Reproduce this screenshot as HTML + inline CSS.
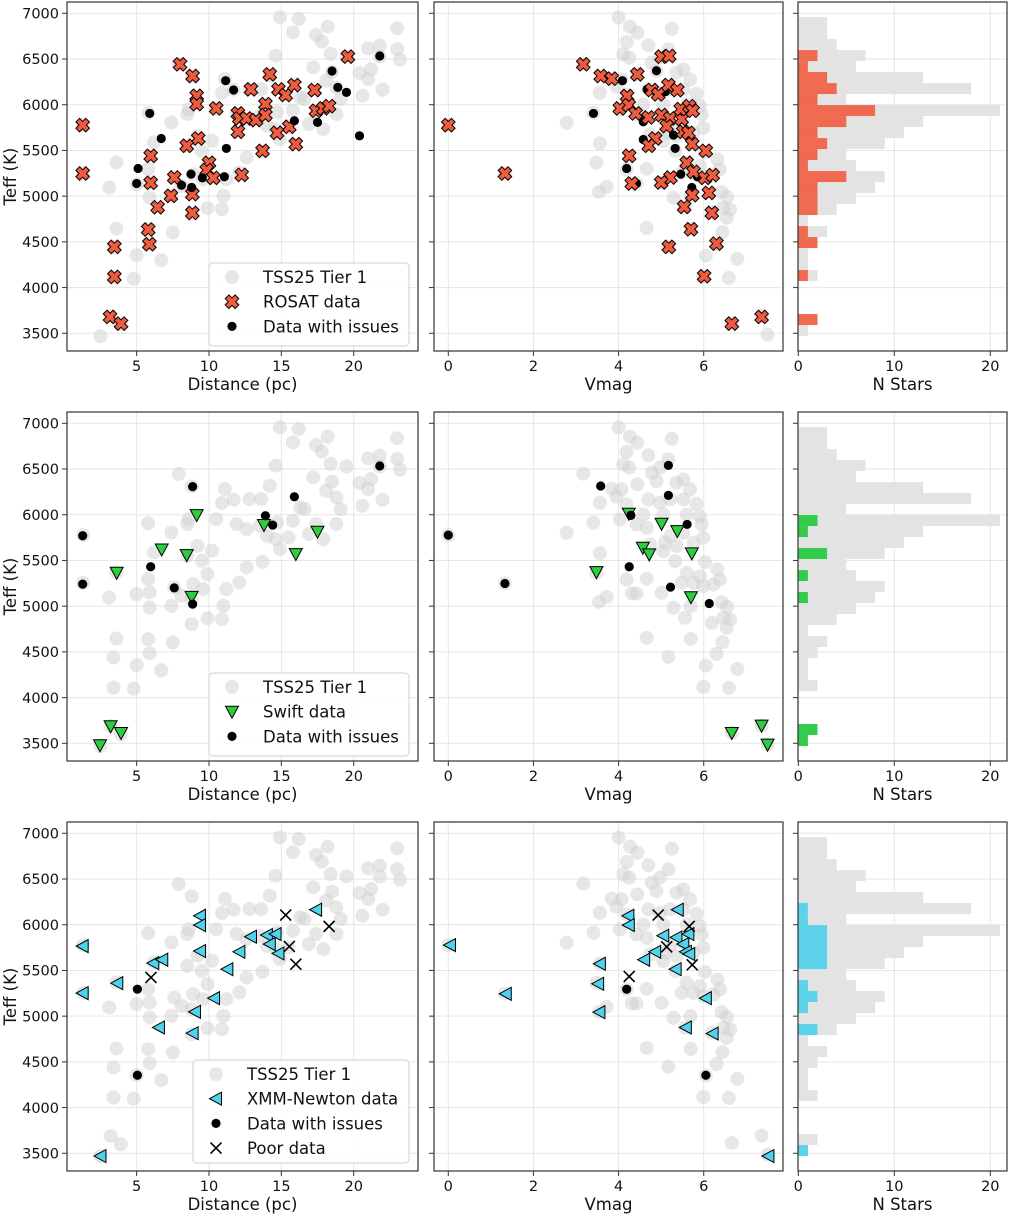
<!DOCTYPE html>
<html><head><meta charset="utf-8"><title>Teff vs Distance / Vmag</title>
<style>
html,body{margin:0;padding:0;background:#fff;}
svg{display:block;font-family:"DejaVu Sans","Liberation Sans",sans-serif;}
</style></head>
<body>
<svg id="fig" width="1010" height="1217" viewBox="0 0 1010 1217" xmlns="http://www.w3.org/2000/svg"></svg>
<script>
// ---------- DATA ----------
const tierDist = [14.9,16.2,15.8,17.4,18.2,17.8,23.0,21.8,21.0,23.0,23.2,21.8,19.5,14.6,18.4,21.2,20.4,21.0,20.6,22.0,17.2,18.5,18.1,18.8,19.1,18.8,17.9,16.9,17.4,16.6,15.8,14.7,14.9,14.0,13.6,14.2,12.8,11.7,11.1,10.9,10.5,11.9,12.6,13.7,12.6,12.1,11.2,11.0,10.9,9.9,9.9,9.6,9.5,10.2,9.2,8.5,8.5,8.6,7.4,7.9,8.8,5.8,6.2,5.8,5.0,5.9,5.9,7.4,7.6,8.1,8.8,8.9,8.8,7.5,5.8,5.9,6.7,5.0,4.8,3.4,3.4,3.6,3.6,3.1,1.3,1.3,3.2,3.9,2.5,14.6,15.5,16.3,13.5];
const tierTeffD = [6956,6938,6792,6763,6854,6690,6836,6646,6617,6609,6493,6529,6529,6536,6555,6390,6347,6281,6098,6164,6409,6361,6263,6190,6062,5898,5733,5788,5898,6062,5934,5916,5624,5770,6171,6317,6171,6164,6281,6128,5952,5898,5843,5485,5423,5259,5186,5003,4857,4868,5350,5186,5496,5606,5660,5551,5898,5952,5806,6445,6310,5908,5588,5296,5131,5150,4985,5003,5204,5113,5076,5241,4803,4602,4639,4485,4299,4354,4098,4109,4438,4646,5369,5095,5777,5252,3689,3598,3470,5733,5752,6080,5880];
const tierVmag = [4.0,4.27,4.44,5.25,4.19,4.70,5.17,4.11,4.25,3.17,4.78,4.97,4.89,5.36,5.52,5.68,3.84,4.07,3.95,4.19,4.44,4.70,4.97,5.21,5.52,5.83,5.60,5.91,5.95,5.99,5.76,5.52,5.21,5.36,5.05,5.33,4.66,4.42,4.03,3.41,2.78,3.56,3.56,3.48,4.19,4.31,4.42,4.66,5.01,5.48,5.60,5.91,6.03,6.32,6.38,6.23,5.99,5.76,5.29,5.56,5.69,6.42,6.55,6.46,6.62,6.54,6.19,4.66,5.70,6.44,5.17,6.30,6.05,6.79,5.99,6.59,3.72,3.54,7.50,7.36,6.66,4.74,5.09,5.05,4.58,0.0,1.33];
const tierTeffV = [6953,6854,6788,6832,6686,6650,6606,6551,6515,6449,6460,6515,6369,6350,6387,6277,6285,6277,6197,6113,6332,6168,6131,6168,6168,6120,6003,5985,5894,5748,5693,5803,5766,5657,5602,5493,5857,5894,5949,5912,5803,6131,5577,5365,5292,5139,5139,5299,5146,5255,5365,5328,5482,5401,5292,5237,5219,5255,4982,4872,5000,5044,4992,4872,4854,4763,4817,4653,4642,4606,4445,4478,4350,4314,4117,4106,5102,5047,3485,3693,3613,5675,5693,6003,6003,5777,5248];

// ROSAT
const rosatDist = [1.27,1.27,8.0,8.87,9.15,9.15,10.5,9.26,8.46,5.97,5.97,7.6,7.37,8.85,8.85,6.45,5.8,5.88,3.46,3.46,3.16,3.92,10.0,9.84,10.3,12.26,12.0,12.0,12.1,12.6,13.25,12.9,13.9,13.9,14.2,13.7,14.8,15.3,15.9,15.55,14.7,16.0,17.3,17.4,17.9,18.3,19.6];
const rosatTeffD = [5777,5248,6442,6314,6098,6007,5960,5631,5551,5441,5146,5204,5003,5022,4817,4879,4635,4474,4445,4117,3679,3606,5365,5285,5200,5233,5704,5905,5850,5850,5832,6168,6007,5887,6332,5496,6168,6106,6215,5759,5693,5569,6160,5934,5960,5985,6526];
const rosatVmag = [0.0,1.33,3.17,3.58,3.84,4.44,5.01,5.19,4.2,4.03,4.24,4.40,4.70,4.78,4.93,5.17,5.38,5.01,5.21,5.13,5.48,5.46,5.66,5.74,5.52,5.64,5.73,4.86,4.71,4.25,6.05,5.60,5.76,5.22,5.0,4.31,6.03,6.21,5.73,6.12,5.54,6.19,5.70,6.30,5.18,6.01,6.66,7.36];
const rosatTeffV = [5777,5248,6442,6314,6285,6332,6526,6533,6095,5960,5996,5905,5861,6161,6113,6215,6160,5887,5850,5766,5843,5952,5985,5934,5704,5693,5569,5631,5551,5441,5496,5365,5266,5204,5150,5139,5200,5230,5011,5036,4883,4817,4638,4481,4445,4124,3606,3679];
const issue1Dist = [5.9,6.7,5.1,5.0,8.1,8.8,8.76,9.54,11.06,11.2,11.15,11.7,15.9,17.5,18.5,18.9,19.5,20.4,21.8];
const issue1TeffD = [5905,5631,5303,5139,5120,5095,5241,5200,5212,5522,6263,6161,5825,5807,6369,6190,6135,5660,6533];
const issue1Vmag = [3.41,4.09,4.89,4.67,5.1,4.58,4.58,5.29,5.33,4.19,4.42,5.46,5.85,5.72];
const issue1TeffV = [5905,6263,6372,6168,6142,5814,5620,5668,5522,5303,5139,5241,5212,5095];

// Swift
const swiftDist = [9.15,6.73,8.46,3.62,8.8,13.8,16.0,17.5,3.2,3.92,2.47];
const swiftTeffD = [5996,5620,5558,5365,5102,5887,5569,5814,3686,3613,3478];
const swiftVmag = [4.24,5.01,5.38,4.57,4.72,5.72,3.48,5.70,6.66,7.36,7.50];
const swiftTeffV = [6011,5901,5821,5639,5566,5577,5372,5098,3613,3693,3485];
const issue2Dist = [1.27,1.27,8.87,5.97,7.6,8.87,13.9,14.4,15.9,21.8];
const issue2TeffD = [5770,5241,6307,5431,5200,5022,5989,5887,6197,6533];
const issue2Vmag = [0.0,1.33,3.58,5.17,5.17,4.29,5.61,4.25,5.22,6.13];
const issue2TeffV = [5777,5248,6314,6540,6212,5993,5894,5431,5208,5029];

// XMM-Newton
const xmmDist = [1.27,1.27,3.66,6.15,6.77,6.54,8.87,9.03,9.38,9.38,9.38,10.35,11.27,12.1,12.9,14.0,14.6,14.2,14.8,17.4,2.5];
const xmmTeffD = [5766,5252,5361,5580,5617,4876,4814,5047,6098,5996,5712,5197,5514,5704,5869,5887,5898,5788,5686,6164,3470];
const xmmVmag = [0.04,1.35,3.56,3.52,3.55,4.23,4.24,4.6,4.86,5.05,5.39,5.36,5.64,5.52,5.58,5.66,5.34,6.05,5.58,6.21,7.52];
const xmmTeffV = [5777,5244,5573,5354,5044,6098,5996,5617,5704,5880,6164,5861,5898,5788,5704,5679,5514,5197,4876,4810,3470];
const issue3Dist = [5.05,5.05];
const issue3TeffD = [5295,4354];
const issue3Vmag = [4.19,6.05];
const issue3TeffV = [5295,4354];
const poorDist = [5.99,15.3,15.55,16.0,18.3];
const poorTeffD = [5423,6106,5763,5569,5982];
const poorVmag = [4.93,4.25,5.13,5.73,5.66];
const poorTeffV = [6106,5434,5759,5562,5982];

// Histograms (bins from low Teff to high Teff)
const binStart = 3470;
const binWidth = 120.3;
const histTier = [1,2,0,0,0,2,1,1,2,3,1,4,6,8,9,6,5,9,11,13,21,5,18,13,6,7,4,3,3];
const histRosat = [0,2,0,0,0,1,0,0,2,1,0,2,2,2,5,1,2,3,2,5,8,2,4,3,1,2,0,0,0];
const histSwift = [1,2,0,0,0,0,0,0,0,0,0,0,0,1,0,1,0,3,0,1,2,0,0,0,0,0,0,0,0];
const histXmm = [1,0,0,0,0,0,0,0,0,0,0,2,0,1,2,1,0,3,3,3,3,1,1,0,0,0,0,0,0];

const teffTicks = [3500,4000,4500,5000,5500,6000,6500,7000];
const distTicks = [5,10,15,20];
const vmagTicks = [0,2,4,6];
const countTicks = [0,10,20];

// ---------- LAYOUT ----------
const NS = 'http://www.w3.org/2000/svg';
const svg = document.getElementById('fig');
const rowOff = [0,410,820];
const P = {L:{x0:67,x1:418}, M:{x0:434,x1:783}, R:{x0:798,x1:1007}};
const top0 = 2, bot0 = 351;
function yT(t,r){return rowOff[r]+13.3+(7000-t)*320/3500;}
function xD(d){return 64.3+d*14.47;}
function xV(v){return 448.3+v*42.57;}
function xC(c){return 798.3+c*9.6;}

function el(tag,attrs,parent){const e=document.createElementNS(NS,tag);for(const k in attrs)e.setAttribute(k,attrs[k]);(parent||svg).appendChild(e);return e;}
function txt(s,x,y,attrs,parent){const t=el('text',Object.assign({x:x,y:y},attrs),parent);t.textContent=s;return t;}

const RED='#ee5b3e', GREEN='#2ecc40', BLUE='#4fd2ec';

function xMarkPts(s,w){return [[-w,-s],[w,-s],[w,-w],[s,-w],[s,w],[w,w],[w,s],[-w,s],[-w,w],[-s,w],[-s,-w],[-w,-w]].map(p=>p.join(',')).join(' ');}
function drawMarker(kind,x,y,g){
  let e;
  if(kind==='tier'){e=el('circle',{cx:x,cy:y,r:7,fill:'#cfcfcf','fill-opacity':0.5},g);}
  else if(kind==='issue'){e=el('circle',{cx:x,cy:y,r:4.6,fill:'#000'},g);}
  else if(kind==='rosat'){e=el('polygon',{points:xMarkPts(7,2.6),transform:`translate(${x},${y}) rotate(45)`,fill:RED,stroke:'#000','stroke-width':1,'stroke-linejoin':'miter'},g);}
  else if(kind==='swift'){e=el('polygon',{points:`${x-6.5},${y-5.5} ${x+6.5},${y-5.5} ${x},${y+6.5}`,fill:GREEN,stroke:'#000','stroke-width':1},g);}
  else if(kind==='xmm'){e=el('polygon',{points:`${x-6.5},${y} ${x+5.5},${y-6.5} ${x+5.5},${y+6.5}`,fill:BLUE,stroke:'#000','stroke-width':1},g);}
  else if(kind==='poor'){e=el('path',{d:`M${x-5.5},${y-5.5}L${x+5.5},${y+5.5}M${x-5.5},${y+5.5}L${x+5.5},${y-5.5}`,stroke:'#000','stroke-width':1.6,fill:'none'},g);}
  return e;
}

function drawPanel(r,key,name){
  const p=P[key], y0=rowOff[r]+top0, y1=rowOff[r]+bot0;
  const g=el('g',{},svg);
  
  
  // grid
  const gg=el('g',{stroke:'#e6e6e6','stroke-width':1},g);
  
  
  teffTicks.forEach(t=>{const y=yT(t,r);el('line',{x1:p.x0,x2:p.x1,y1:y,y2:y},gg);});
  let xf, ticks;
  if(key==='L'){xf=xD;ticks=distTicks;} else if(key==='M'){xf=xV;ticks=vmagTicks;} else {xf=xC;ticks=countTicks;}
  ticks.forEach(v=>{const x=xf(v);el('line',{x1:x,x2:x,y1:y0,y2:y1},gg);});
  return {g,p,y0,y1,xf,ticks};
}
function finishPanel(o,r,key,xlabel){
  const {g,p,y0,y1,xf,ticks}=o;
  el('rect',{x:p.x0,y:y0,width:p.x1-p.x0,height:y1-y0,fill:'none',stroke:'#333','stroke-width':1.2},g);
  teffTicks.forEach(t=>{const y=yT(t,r);el('line',{x1:p.x0-5,x2:p.x0,y1:y,y2:y,stroke:'#333','stroke-width':1},g);
    if(key==='L'){const tl=txt(String(t),p.x0-8,y+5.2,{'font-size':'14.5','text-anchor':'end',fill:'#111'},g);
      
      }
  });
  ticks.forEach(v=>{const x=xf(v);el('line',{x1:x,x2:x,y1:y1,y2:y1+5,stroke:'#333','stroke-width':1},g);
    const tl=txt(String(v),x,y1+20,{'font-size':'14.5','text-anchor':'middle',fill:'#111'},g);
    
    
  });
  const xt=txt(xlabel,(p.x0+p.x1)/2,y1+39,{'font-size':'16.5','text-anchor':'middle',fill:'#111'},g);
  
  
  if(key==='L'){
    const yc=(y0+y1)/2;
    const yt=txt('Teff (K)',16,yc,{'font-size':'16.5','text-anchor':'middle',fill:'#111',transform:`rotate(-90 16 ${yc})`},g);
    
    
  }
}
function scatter(g,kind,xs,ts,xf,r,name){
  const sg=el('g',{},g);
  
  
  for(let i=0;i<xs.length;i++){
    const m=drawMarker(kind,xf(xs[i]),yT(ts[i],r),sg);
    
    
  }
}
function hist(g,counts,color,r,name){
  const hg=el('g',{},g);
  
  
  counts.forEach((c,i)=>{
    if(c<=0)return;
    const ya=yT(binStart+(i+1)*binWidth,r), yb=yT(binStart+i*binWidth,r);
    const b=el('rect',{x:xC(0),y:ya,width:xC(c)-xC(0),height:yb-ya,fill:color},hg);
    
    
  });
}
function legend(r,x,y,w,h,entries){
  const g=el('g',{},svg);
  
  
  el('rect',{x:x,y:rowOff[r]+y,width:w,height:h,rx:4,fill:'#fff','fill-opacity':0.85,stroke:'#d0d0d0','stroke-width':1},g);
  entries.forEach((e,i)=>{
    const yy=rowOff[r]+y+14+i*24.7;
    const eg=el('g',{},g);
    
    
    drawMarker(e[0],x+23,yy,eg);
    txt(e[1],x+54,yy+6,{'font-size':'16.5',fill:'#111'},eg);
  });
}

const cfg=[
  {kind:'rosat',name:'rosat',d:[rosatDist,rosatTeffD],v:[rosatVmag,rosatTeffV],iss:[issue1Dist,issue1TeffD,issue1Vmag,issue1TeffV],h:histRosat,col:'#ef6a4f'},
  {kind:'swift',name:'swift',d:[swiftDist,swiftTeffD],v:[swiftVmag,swiftTeffV],iss:[issue2Dist,issue2TeffD,issue2Vmag,issue2TeffV],h:histSwift,col:'#33cc4a'},
  {kind:'xmm',name:'xmm',d:[xmmDist,xmmTeffD],v:[xmmVmag,xmmTeffV],iss:[issue3Dist,issue3TeffD,issue3Vmag,issue3TeffV],h:histXmm,col:'#5cd3ea'}
];
cfg.forEach((c,r)=>{
  // left
  let o=drawPanel(r,'L',c.name+'-distance-panel');
  scatter(o.g,'tier',tierDist,tierTeffD,xD,r,'tier1-stars');
  if(r===2){scatter(o.g,'issue',c.iss[0],c.iss[1],xD,r,'issue-stars');scatter(o.g,c.kind,c.d[0],c.d[1],xD,r,c.name+'-stars');scatter(o.g,'poor',poorDist,poorTeffD,xD,r,'poor-stars');}
  else if(r===0){scatter(o.g,c.kind,c.d[0],c.d[1],xD,r,c.name+'-stars');scatter(o.g,'issue',c.iss[0],c.iss[1],xD,r,'issue-stars');}
  else {scatter(o.g,c.kind,c.d[0],c.d[1],xD,r,c.name+'-stars');scatter(o.g,'issue',c.iss[0],c.iss[1],xD,r,'issue-stars');}
  finishPanel(o,r,'L','Distance (pc)');
  // middle
  o=drawPanel(r,'M',c.name+'-vmag-panel');
  scatter(o.g,'tier',tierVmag,tierTeffV,xV,r,'tier1-stars');
  if(r===0){scatter(o.g,'issue',c.iss[2],c.iss[3],xV,r,'issue-stars');scatter(o.g,c.kind,c.v[0],c.v[1],xV,r,c.name+'-stars');}
  else{scatter(o.g,c.kind,c.v[0],c.v[1],xV,r,c.name+'-stars');scatter(o.g,'issue',c.iss[2],c.iss[3],xV,r,'issue-stars');}
  if(r===2)scatter(o.g,'poor',poorVmag,poorTeffV,xV,r,'poor-stars');
  finishPanel(o,r,'M','Vmag');
  // right
  o=drawPanel(r,'R',c.name+'-histogram-panel');
  hist(o.g,histTier,'#e3e3e3',r,'tier1-histogram');
  hist(o.g,c.h,c.col,r,c.name+'-histogram');
  finishPanel(o,r,'R','N Stars');
});
legend(0,209,263,200,83,[['tier','TSS25 Tier 1'],['rosat','ROSAT data'],['issue','Data with issues']]);
legend(1,209,263,200,83,[['tier','TSS25 Tier 1'],['swift','Swift data'],['issue','Data with issues']]);
legend(2,193,240,216,103,[['tier','TSS25 Tier 1'],['xmm','XMM-Newton data'],['issue','Data with issues'],['poor','Poor data']]);
</script>
</body></html>
